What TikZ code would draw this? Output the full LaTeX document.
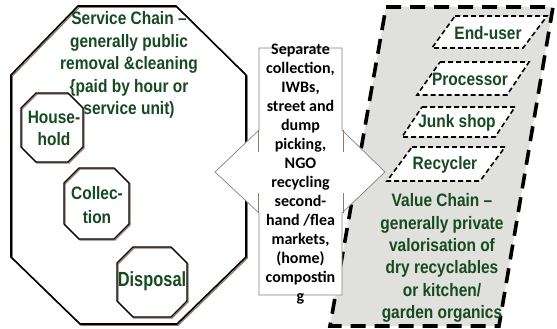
\documentclass[tikz,border=0pt]{standalone}
\usepackage{fontspec}
\setmainfont{Liberation Sans}
\newfontfamily\narrowbold[FakeStretch=0.86]{Liberation Sans}
\newfontfamily\narrowboldb[FakeStretch=0.8]{Liberation Sans}
\newfontfamily\calib{Carlito}
\definecolor{tgreen}{RGB}{22,74,32}
\definecolor{shadowbrown}{RGB}{150,118,108}
\definecolor{panelgray}{RGB}{224,224,221}
\definecolor{calloutline}{RGB}{130,130,130}
\newcommand{\octopath}[5]{({#1-#3+#5},{#2-#4}) -- ({#1+#3-#5},{#2-#4}) -- ({#1+#3},{#2-#4+#5}) -- ({#1+#3},{#2+#4-#5}) -- ({#1+#3-#5},{#2+#4}) -- ({#1-#3+#5},{#2+#4}) -- ({#1-#3},{#2+#4-#5}) -- ({#1-#3},{#2-#4+#5}) -- cycle}
\tikzset{
  greentext/.style={text=tgreen, font=\narrowbold\bfseries\fontsize{18}{22.3}\selectfont, align=center, inner sep=0pt},
  calltext/.style={text=black, font=\calib\bfseries\fontsize{16}{19}\selectfont, align=center, inner sep=0pt},
  octline/.style={draw=black, line width=1.4pt, line join=miter},
  octshadow/.style={draw=shadowbrown, line width=1.2pt},
  bigpanel/.style={fill=panelgray, draw=black, line width=3.6pt, dash pattern=on 15pt off 9pt},
  smallpara/.style={fill=white, draw=black, line width=1.6pt, dash pattern=on 5pt off 3pt},
  callout/.style={fill=white, draw=calloutline, line width=0.7pt}
}
\begin{document}
\begin{tikzpicture}[x=1pt,y=-1pt]
\useasboundingbox (0,0) rectangle (557,329);
% big service octagon
\draw[octshadow, xshift=1.2pt, yshift=-1.2pt] (78,6) -- (176,6) -- (246,75) -- (246,257) -- (177,324) -- (80,324) -- (11,257) -- (11,75) -- cycle;
\draw[octline, line width=1.6pt] (78,6) -- (176,6) -- (246,75) -- (246,257) -- (177,324) -- (80,324) -- (11,257) -- (11,75) -- cycle;
\node[greentext, font=\narrowbold\bfseries\fontsize{18}{22.5}\selectfont] (service) at (129,65) {Service Chain –\\generally public\\removal \&cleaning\\\{paid by hour or\\service unit)};
% small octagons
\draw[octshadow, xshift=1pt, yshift=-1pt] \octopath{52}{127.5}{31}{34.5}{15};
\draw[octline] \octopath{52}{127.5}{31}{34.5}{15};
\node[greentext, font=\narrowbold\bfseries\fontsize{18}{22}\selectfont] (household) at (54,128) {House-\\hold};
\draw[octshadow, xshift=1pt, yshift=-1pt] \octopath{96.5}{203.5}{32.5}{35.5}{15};
\draw[octline] \octopath{96.5}{203.5}{32.5}{35.5}{15};
\node[greentext, font=\narrowbold\bfseries\fontsize{18}{24}\selectfont] (collection) at (97,205) {Collec-\\tion};
\draw[octshadow, xshift=1pt, yshift=-1pt] \octopath{152}{282}{35}{35}{16};
\draw[octline] \octopath{152}{282}{35}{35}{16};
\node[greentext, font=\narrowboldb\bfseries\fontsize{20.5}{24}\selectfont] (disposal) at (152,281) {Disposal};
% value chain panel
\draw[bigpanel] (386,7) -- (553,7) -- (499,326) -- (330,326) -- cycle;
\draw[smallpara] (455,16) -- (547,16) -- (523,48) -- (432,48) -- cycle;
\node[greentext] (enduser) at (488,33) {End-user};
\draw[smallpara] (440,62) -- (529,62) -- (507,95) -- (417,95) -- cycle;
\node[greentext] (processor) at (470,79) {Processor};
\draw[smallpara] (422,107) -- (515,107) -- (495,137) -- (402,137) -- cycle;
\node[greentext] (junkshop) at (457,123) {Junk shop};
\draw[smallpara] (412,147) -- (505,147) -- (480,181) -- (387,181) -- cycle;
\node[greentext] (recycler) at (445,165) {Recycler};
\node[greentext] (value) at (442,258) {Value Chain –\\generally private\\valorisation of\\dry recyclables\\or kitchen/\\garden organics};
% callout
\draw[callout] (259,48) -- (342,48) -- (342,130) -- (385,172) -- (342,213) -- (342,295) -- (259,295) -- (259,213) -- (215,172) -- (259,130) -- cycle;
\draw[shadowbrown, line width=1pt] (258,130) -- (258,152) (258,193) -- (258,213) (343,130) -- (343,152) (343,193) -- (343,213);
\node[calltext] (middle) at (300.5,174) {Separate\\collection,\\IWBs,\\street and\\dump\\picking,\\NGO\\recycling\\second-\\hand /flea\\markets,\\(home)\\compostin\\g};
\end{tikzpicture}
\end{document}
